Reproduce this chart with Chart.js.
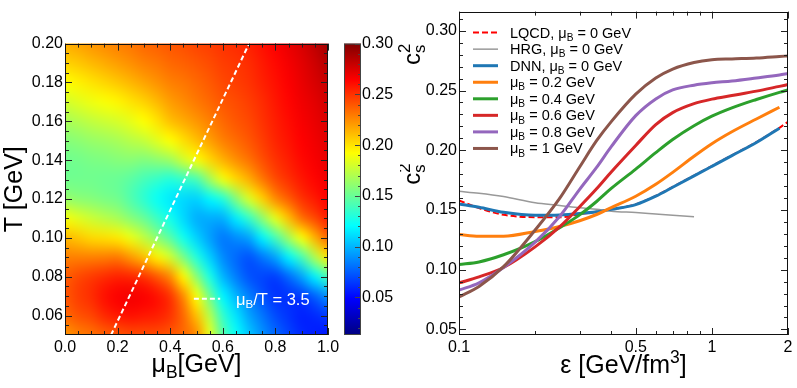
<!DOCTYPE html>
<html>
<head>
<meta charset="utf-8">
<script src="https://cdn.jsdelivr.net/npm/chart.js@4.4.0/dist/chart.umd.min.js"></script>
<style>
  html, body { margin: 0; padding: 0; background: #fff; }
  #wrap { position: relative; width: 797px; height: 388px; overflow: hidden; }
  #heat { position: absolute; left: 0; top: 0; }
  #cs2 { position: absolute; left: 400px; top: 0; }
</style>
</head>
<body>
<div id="wrap">
  <canvas id="heat" width="430" height="388"></canvas>
  <canvas id="cs2" width="397" height="388"></canvas>
</div>
<script>
const FONT = '"Liberation Sans", Arial, Helvetica, sans-serif';

// ---- left panel: c_s^2 over (muB, T) ----
const muGrid = [0.00, 0.05, 0.10, 0.15, 0.20, 0.25, 0.30, 0.35, 0.40, 0.45, 0.50,
                0.55, 0.60, 0.65, 0.70, 0.75, 0.80, 0.85, 0.90, 0.95, 1.00];
const tGrid = [0.20, 0.19, 0.18, 0.17, 0.16, 0.15, 0.14, 0.13, 0.12, 0.11, 0.10, 0.09, 0.08, 0.07, 0.06, 0.05];
const cs2Map = [
  [0.215,0.218,0.222,0.225,0.228,0.231,0.235,0.237,0.240,0.242,0.245,0.247,0.250,0.252,0.255,0.260,0.265,0.270,0.275,0.282,0.290],
  [0.205,0.208,0.212,0.216,0.220,0.224,0.228,0.231,0.235,0.237,0.240,0.243,0.247,0.249,0.252,0.257,0.262,0.267,0.272,0.278,0.285],
  [0.192,0.196,0.200,0.204,0.208,0.213,0.218,0.223,0.228,0.231,0.235,0.239,0.244,0.247,0.250,0.255,0.260,0.265,0.270,0.275,0.280],
  [0.180,0.184,0.188,0.191,0.195,0.200,0.205,0.212,0.220,0.225,0.230,0.235,0.240,0.243,0.247,0.252,0.258,0.263,0.268,0.272,0.277],
  [0.168,0.171,0.175,0.178,0.181,0.186,0.192,0.200,0.210,0.216,0.222,0.228,0.235,0.240,0.244,0.250,0.256,0.261,0.266,0.270,0.274],
  [0.158,0.160,0.163,0.165,0.168,0.172,0.176,0.184,0.192,0.201,0.210,0.219,0.228,0.234,0.240,0.247,0.254,0.259,0.264,0.268,0.272],
  [0.152,0.153,0.155,0.156,0.158,0.159,0.157,0.160,0.165,0.179,0.190,0.203,0.214,0.224,0.232,0.242,0.250,0.256,0.262,0.266,0.270],
  [0.152,0.152,0.152,0.151,0.150,0.146,0.140,0.135,0.130,0.135,0.140,0.165,0.188,0.203,0.215,0.230,0.243,0.251,0.258,0.263,0.268],
  [0.163,0.160,0.158,0.155,0.152,0.143,0.133,0.123,0.115,0.110,0.108,0.118,0.130,0.157,0.182,0.205,0.225,0.238,0.250,0.257,0.264],
  [0.190,0.184,0.178,0.173,0.168,0.159,0.150,0.137,0.125,0.110,0.098,0.097,0.098,0.115,0.135,0.160,0.185,0.210,0.232,0.244,0.255],
  [0.212,0.208,0.203,0.201,0.198,0.187,0.175,0.160,0.145,0.125,0.108,0.094,0.083,0.088,0.095,0.117,0.140,0.166,0.190,0.214,0.235],
  [0.228,0.228,0.228,0.229,0.230,0.221,0.210,0.196,0.180,0.155,0.130,0.107,0.088,0.078,0.072,0.082,0.095,0.117,0.140,0.170,0.198],
  [0.238,0.244,0.248,0.252,0.255,0.254,0.250,0.240,0.225,0.195,0.160,0.128,0.100,0.084,0.072,0.068,0.066,0.078,0.095,0.117,0.140],
  [0.240,0.247,0.252,0.260,0.265,0.267,0.265,0.260,0.250,0.225,0.190,0.152,0.118,0.100,0.085,0.072,0.063,0.063,0.065,0.076,0.090],
  [0.235,0.241,0.245,0.253,0.258,0.260,0.258,0.256,0.250,0.235,0.210,0.172,0.135,0.113,0.095,0.082,0.070,0.063,0.058,0.060,0.065],
  [0.222,0.228,0.232,0.237,0.240,0.243,0.243,0.243,0.240,0.235,0.225,0.185,0.145,0.123,0.105,0.090,0.078,0.068,0.060,0.057,0.055]
];
const cbMin = 0.013, cbMax = 0.30;

// muB / T = 3.5 guide line
const ratioMu = [0.175, 0.70];
const ratioT = [0.05, 0.20];
const ratioKeyMu = [0.49, 0.59], ratioKeyT = 0.0686, ratioTextMu = 0.65;

const muTicks = [0, 0.2, 0.4, 0.6, 0.8, 1.0];
const tTicks = [0.06, 0.08, 0.10, 0.12, 0.14, 0.16, 0.18, 0.20];
const cbTicks = [0.05, 0.10, 0.15, 0.20, 0.25, 0.30];

// ---- right panel: c_s^2 vs energy density ----
const eps = [0.1, 0.12, 0.15, 0.2, 0.25, 0.3, 0.35, 0.4, 0.5, 0.6, 0.7, 0.85, 1.0, 1.2, 1.5, 1.85, 2.0];
const lqcd = [0.158, 0.1515, 0.146, 0.1439, 0.1438, 0.1465, 0.1485, 0.1505, 0.1548, 0.1618, 0.1693, 0.1788, 0.1868, 0.1958, 0.2068, 0.2188, 0.2238];
const hrg  = [0.1656, 0.164, 0.1612, 0.156, 0.1538, 0.1518, 0.1505, 0.149, 0.1478, 0.1466, 0.1456, 0.1444, null, null, null, null, null];
const dnn  = [0.155, 0.1522, 0.148, 0.1455, 0.1458, 0.147, 0.1485, 0.1505, 0.1545, 0.1615, 0.169, 0.1785, 0.1865, 0.1955, 0.2065, 0.2185, null];
const mu02 = [0.1294, 0.128, 0.128, 0.132, 0.1362, 0.141, 0.1462, 0.152, 0.1615, 0.1715, 0.1815, 0.195, 0.2055, 0.2155, 0.2262, 0.236, null];
const mu04 = [0.1044, 0.1065, 0.1125, 0.1235, 0.1352, 0.1459, 0.1571, 0.168, 0.1842, 0.198, 0.209, 0.2205, 0.2285, 0.2355, 0.2425, 0.2485, 0.2505];
const mu06 = [0.0889, 0.094, 0.1018, 0.1191, 0.1358, 0.1527, 0.1677, 0.1818, 0.204, 0.2215, 0.2315, 0.239, 0.2428, 0.2458, 0.2495, 0.2535, 0.255];
const mu08 = [0.0828, 0.089, 0.1018, 0.123, 0.1445, 0.1673, 0.1856, 0.203, 0.229, 0.243, 0.2505, 0.2545, 0.2565, 0.258, 0.2605, 0.263, 0.2642];
const mu10 = [0.0772, 0.086, 0.1025, 0.1332, 0.1597, 0.186, 0.208, 0.224, 0.247, 0.2605, 0.268, 0.2735, 0.2758, 0.2765, 0.2772, 0.2785, 0.279];

const epsTicks = [0.1, 0.5, 1, 2];
const epsMinor = [0.2, 0.3, 0.4, 0.6, 0.7, 0.8, 0.9];
const csTicks = [0.05, 0.10, 0.15, 0.20, 0.25, 0.30];

function steps(a, b, d) {
  const out = [];
  for (let v = a; v <= b + 1e-9; v += d) out.push(Math.round(v * 1e4) / 1e4);
  return out;
}

function jetRGB(v) {
  const t = Math.min(1, Math.max(0, (v - cbMin) / (cbMax - cbMin)));
  const c = k => Math.round(255 * Math.min(1, Math.max(0, 1.5 - Math.abs(4 * t - k))));
  return [c(3), c(2), c(1)];
}
function jet(v) {
  return 'rgb(' + jetRGB(v).join(',') + ')';
}

// text with _{sub} and ^{sup}; a sup right after a sub is stacked over it
function drawRich(ctx, str, x, y, size, align) {
  const parts = [];
  let buf = '', i = 0;
  while (i < str.length) {
    const ch = str[i];
    if ((ch === '_' || ch === '^') && str[i + 1] === '{') {
      if (buf) { parts.push({ t: buf, k: 'n' }); buf = ''; }
      const end = str.indexOf('}', i);
      parts.push({ t: str.slice(i + 2, end), k: ch === '_' ? 'sub' : 'sup' });
      i = end + 1;
    } else { buf += ch; i++; }
  }
  if (buf) parts.push({ t: buf, k: 'n' });

  const small = size * 0.7;
  let w = 0, subStart = 0, subW = 0;
  const placed = [];
  parts.forEach((p, j) => {
    const fs = p.k === 'n' ? size : small;
    ctx.font = fs + 'px ' + FONT;
    const pw = ctx.measureText(p.t).width;
    if (p.k === 'sup' && j > 0 && parts[j - 1].k === 'sub') {
      placed.push({ p, fs, x: subStart });
      w = subStart + Math.max(subW, pw);
    } else {
      placed.push({ p, fs, x: w });
      if (p.k === 'sub') { subStart = w; subW = pw; }
      w += pw;
    }
  });
  const x0 = align === 'center' ? x - w / 2 : align === 'right' ? x - w : x;
  ctx.textAlign = 'left';
  ctx.textBaseline = 'alphabetic';
  placed.forEach(q => {
    ctx.font = q.fs + 'px ' + FONT;
    const dy = q.p.k === 'sub' ? 0.22 * size : q.p.k === 'sup' ? -0.42 * size : 0;
    ctx.fillText(q.p.t, x0 + q.x, y + dy);
  });
}

function rotatedRich(ctx, str, x, y, size, align) {
  ctx.save();
  ctx.translate(x, y);
  ctx.rotate(-Math.PI / 2);
  drawRich(ctx, str, 0, 0, size, align);
  ctx.restore();
}

// inward ticks on all four sides plus the frame
function drawFrame(chart, xMajor, xMinor, yMajor, yMinor) {
  const { ctx, chartArea: a, scales: { x, y } } = chart;
  ctx.save();
  ctx.strokeStyle = '#222';
  ctx.lineWidth = 1;
  ctx.beginPath();
  const mark = (vals, len, horiz) => vals.forEach(v => {
    if (horiz) {
      const p = Math.round(x.getPixelForValue(v)) + 0.5;
      ctx.moveTo(p, a.bottom); ctx.lineTo(p, a.bottom - len);
      ctx.moveTo(p, a.top); ctx.lineTo(p, a.top + len);
    } else {
      const p = Math.round(y.getPixelForValue(v)) + 0.5;
      ctx.moveTo(a.left, p); ctx.lineTo(a.left + len, p);
      ctx.moveTo(a.right, p); ctx.lineTo(a.right - len, p);
    }
  });
  mark(xMajor, 7, true); mark(xMinor, 4, true);
  mark(yMajor, 7, false); mark(yMinor, 4, false);
  ctx.stroke();
  ctx.strokeStyle = '#111';
  ctx.strokeRect(Math.round(a.left) + 0.5, Math.round(a.top) + 0.5,
                 Math.round(a.right - a.left) - 1, Math.round(a.bottom - a.top) - 1);
  ctx.restore();
}

const tickFont = { family: FONT, size: 16 };

// ================= left: heat map =================
// one texel per grid value, placed so texel centres sit on the grid points
const cellImage = document.createElement('canvas');
cellImage.width = muGrid.length;
cellImage.height = tGrid.length;
(function () {
  const g = cellImage.getContext('2d');
  const img = g.createImageData(muGrid.length, tGrid.length);
  tGrid.forEach((t, r) => muGrid.forEach((m, c) => {
    const [R, G, B] = jetRGB(cs2Map[r][c]);
    const k = 4 * (r * muGrid.length + c);
    img.data[k] = R; img.data[k + 1] = G; img.data[k + 2] = B; img.data[k + 3] = 255;
  }));
  g.putImageData(img, 0, 0);
})();

const heatPlugin = {
  id: 'heatCells',
  beforeDatasetsDraw(chart) {
    const { ctx, chartArea: a, scales: { x, y } } = chart;
    const muHalf = (muGrid[1] - muGrid[0]) / 2;
    const tHalf = (tGrid[0] - tGrid[1]) / 2;
    const x0 = x.getPixelForValue(muGrid[0] - muHalf);
    const x1 = x.getPixelForValue(muGrid[muGrid.length - 1] + muHalf);
    const y0 = y.getPixelForValue(tGrid[0] + tHalf);
    const y1 = y.getPixelForValue(tGrid[tGrid.length - 1] - tHalf);
    ctx.save();
    ctx.beginPath();
    ctx.rect(a.left, a.top, a.right - a.left, a.bottom - a.top);
    ctx.clip();
    ctx.imageSmoothingEnabled = true;
    ctx.imageSmoothingQuality = 'high';
    ctx.drawImage(cellImage, x0, y0, x1 - x0, y1 - y0);
    ctx.restore();
  },
  afterDatasetsDraw(chart) {
    const { ctx, scales: { x, y } } = chart;
    // key for the guide line
    const ky = y.getPixelForValue(ratioKeyT);
    ctx.save();
    ctx.strokeStyle = '#fff';
    ctx.lineWidth = 2;
    ctx.setLineDash([5, 3]);
    ctx.beginPath();
    ctx.moveTo(x.getPixelForValue(ratioKeyMu[0]), ky);
    ctx.lineTo(x.getPixelForValue(ratioKeyMu[1]), ky);
    ctx.stroke();
    ctx.setLineDash([]);
    ctx.fillStyle = '#fff';
    drawRich(ctx, 'μ_{B}/T = 3.5', x.getPixelForValue(ratioTextMu), ky + 6, 16.5, 'left');
    ctx.restore();
  },
  afterDraw(chart) {
    const { ctx, chartArea: a, scales: { cb } } = chart;
    drawFrame(chart, muTicks, steps(0.05, 0.95, 0.05), tTicks, steps(0.055, 0.195, 0.005));

    // colour bar
    const bx0 = a.right + 16, bx1 = a.right + 33;
    const top = cb.getPixelForValue(cbMax), bot = cb.getPixelForValue(cbMin);
    const g = ctx.createLinearGradient(0, bot, 0, top);
    [0, 0.125, 0.375, 0.625, 0.875, 1].forEach(f => g.addColorStop(f, jet(cbMin + f * (cbMax - cbMin))));
    ctx.save();
    ctx.fillStyle = g;
    ctx.fillRect(bx0, top, bx1 - bx0, bot - top);
    ctx.strokeStyle = '#444';
    ctx.lineWidth = 1;
    ctx.strokeRect(bx0 + 0.5, top + 0.5, bx1 - bx0 - 1, bot - top - 1);
    ctx.beginPath();
    cbTicks.forEach(v => { const p = Math.round(cb.getPixelForValue(v)) + 0.5; ctx.moveTo(bx1, p); ctx.lineTo(bx1 - 6, p); });
    steps(0.02, 0.29, 0.01).forEach(v => { const p = Math.round(cb.getPixelForValue(v)) + 0.5; ctx.moveTo(bx1, p); ctx.lineTo(bx1 - 3, p); });
    ctx.stroke();
    ctx.fillStyle = '#000';
    rotatedRich(ctx, 'c_{s}^{2}', 420, top, 24, 'right');

    // axis titles
    drawRich(ctx, 'μ_{B}[GeV]', (a.left + a.right) / 2, 372, 25, 'center');
    rotatedRich(ctx, 'T [GeV]', 22, (a.top + a.bottom) / 2, 25, 'center');
    ctx.restore();
  }
};

new Chart(document.getElementById('heat'), {
  type: 'scatter',
  data: {
    datasets: [{
      data: ratioMu.map((m, i) => ({ x: m, y: ratioT[i] })),
      showLine: true,
      borderColor: '#ffffff',
      borderWidth: 2,
      borderDash: [5, 3],
      pointRadius: 0
    }]
  },
  options: {
    responsive: false,
    animation: false,
    events: [],
    layout: { padding: { top: 10, left: 0, right: 0, bottom: 0 } },
    plugins: { legend: { display: false }, tooltip: { enabled: false } },
    scales: {
      x: {
        type: 'linear', min: 0, max: 1,
        grid: { display: false, drawTicks: false }, border: { display: false },
        ticks: { font: tickFont, color: '#000', padding: 3, maxRotation: 0, autoSkip: false,
                 callback: v => v.toFixed(1) },
        afterBuildTicks: s => { s.ticks = muTicks.map(v => ({ value: v })); },
        afterFit: s => { s.height = 53; }
      },
      y: {
        type: 'linear', position: 'left', min: 0.05, max: 0.20,
        grid: { display: false, drawTicks: false }, border: { display: false },
        ticks: { font: tickFont, color: '#000', padding: 2, autoSkip: false,
                 callback: v => v.toFixed(2) },
        afterBuildTicks: s => { s.ticks = tTicks.map(v => ({ value: v })); },
        afterFit: s => { s.width = 65; }
      },
      cb: {
        type: 'linear', axis: 'y', position: 'right', min: cbMin, max: cbMax,
        grid: { display: false, drawTicks: false }, border: { display: false },
        ticks: { font: tickFont, color: '#000', padding: 34, autoSkip: false,
                 callback: v => v.toFixed(2) },
        afterBuildTicks: s => { s.ticks = cbTicks.map(v => ({ value: v })); },
        afterFit: s => { s.width = 102; }
      }
    }
  },
  plugins: [heatPlugin]
});

// ================= right: c_s^2 vs epsilon =================
const series = [
  { label: 'LQCD, μ_{B} = 0 GeV', values: lqcd, color: '#ff0000', width: 2, dash: [6, 3], order: 8 },
  { label: 'HRG, μ_{B} = 0 GeV',  values: hrg,  color: '#999999', width: 1.5, dash: [], order: 7 },
  { label: 'DNN, μ_{B} = 0 GeV',  values: dnn,  color: '#1f77b4', width: 3, dash: [], order: 6 },
  { label: 'μ_{B} = 0.2 GeV',     values: mu02, color: '#ff7f0e', width: 3, dash: [], order: 5 },
  { label: 'μ_{B} = 0.4 GeV',     values: mu04, color: '#2ca02c', width: 3, dash: [], order: 4 },
  { label: 'μ_{B} = 0.6 GeV',     values: mu06, color: '#d62728', width: 3, dash: [], order: 3 },
  { label: 'μ_{B} = 0.8 GeV',     values: mu08, color: '#9467bd', width: 3, dash: [], order: 2 },
  { label: 'μ_{B} = 1 GeV',       values: mu10, color: '#8c564b', width: 3, dash: [], order: 1 }
];

const cs2Plugin = {
  id: 'cs2Deco',
  afterDraw(chart) {
    const { ctx, chartArea: a } = chart;
    drawFrame(chart, epsTicks, epsMinor, csTicks, steps(0.05, 0.31, 0.01));
    ctx.save();
    // legend inside the frame
    series.forEach((s, i) => {
      const base = a.top + 26 + i * 16.55;
      ctx.strokeStyle = s.color;
      ctx.lineWidth = s.width;
      ctx.setLineDash(s.dash);
      ctx.beginPath();
      ctx.moveTo(a.left + 14, base - 5);
      ctx.lineTo(a.left + 39, base - 5);
      ctx.stroke();
      ctx.setLineDash([]);
      ctx.fillStyle = '#000';
      drawRich(ctx, s.label, a.left + 51, base, 14.5, 'left');
    });
    ctx.fillStyle = '#000';
    drawRich(ctx, 'ε [GeV/fm^{3}]', (a.left + a.right) / 2, 373, 25, 'center');
    rotatedRich(ctx, 'c_{s}^{2}', 20, 174, 24, 'center');
    ctx.restore();
  }
};

new Chart(document.getElementById('cs2'), {
  type: 'scatter',
  data: {
    datasets: series.map(s => ({
      label: s.label,
      data: eps.map((e, i) => ({ x: e, y: s.values[i] })).filter(p => p.y !== null),
      showLine: true,
      borderColor: s.color,
      backgroundColor: s.color,
      borderWidth: s.width,
      borderDash: s.dash,
      pointRadius: 0,
      cubicInterpolationMode: 'monotone',
      order: s.order
    }))
  },
  options: {
    responsive: false,
    animation: false,
    events: [],
    layout: { padding: { top: 10, left: 0, right: 9, bottom: 0 } },
    plugins: { legend: { display: false }, tooltip: { enabled: false } },
    scales: {
      x: {
        type: 'logarithmic', min: 0.1, max: 2,
        grid: { display: false, drawTicks: false }, border: { display: false },
        ticks: { font: tickFont, color: '#000', padding: 3, maxRotation: 0, autoSkip: false,
                 callback: v => String(v) },
        afterBuildTicks: s => { s.ticks = epsTicks.map(v => ({ value: v })); },
        afterFit: s => { s.height = 53; }
      },
      y: {
        type: 'linear', min: 0.0453, max: 0.3161,
        grid: { display: false, drawTicks: false }, border: { display: false },
        ticks: { font: tickFont, color: '#000', padding: 2, autoSkip: false,
                 callback: v => v.toFixed(2) },
        afterBuildTicks: s => { s.ticks = csTicks.map(v => ({ value: v })); },
        afterFit: s => { s.width = 59; }
      }
    }
  },
  plugins: [cs2Plugin]
});
</script>
</body>
</html>
